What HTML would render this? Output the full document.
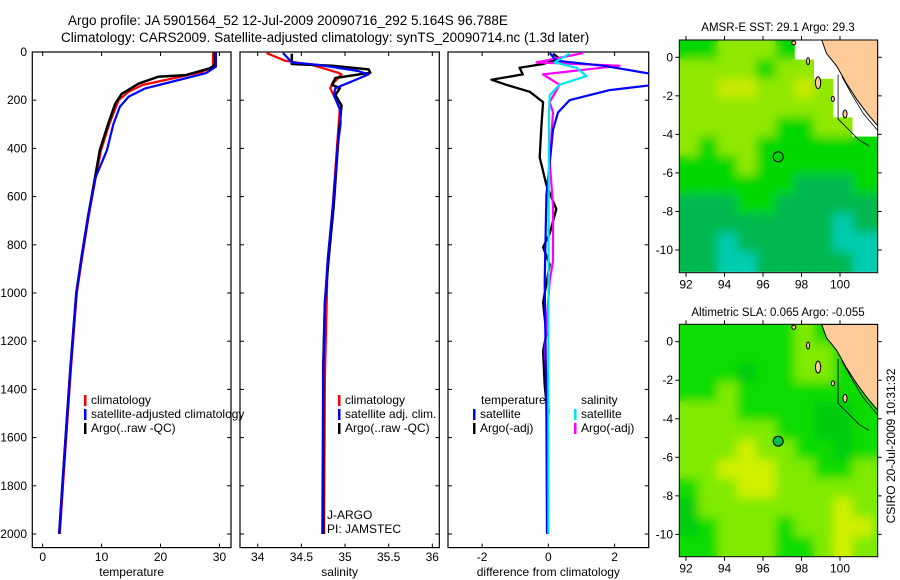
<!DOCTYPE html>
<html><head><meta charset="utf-8">
<style>
html,body{margin:0;padding:0;background:#fff;}
svg{display:block;font-family:"Liberation Sans",sans-serif;}
text{fill:#000;}
</style></head>
<body>
<svg id="fig" width="900" height="580" viewBox="0 0 900 580" xmlns="http://www.w3.org/2000/svg">
<defs><filter id="soft" x="-5%" y="-5%" width="110%" height="110%"><feGaussianBlur stdDeviation="5"/></filter></defs>
<text x="68" y="25" font-size="13.5">Argo profile: JA 5901564_52 12-Jul-2009 20090716_292 5.164S 96.788E</text>
<text x="61" y="42" font-size="13.5">Climatology: CARS2009. Satellite-adjusted climatology: synTS_20090714.nc (1.3d later)</text>
<text x="778" y="31" font-size="11.5" text-anchor="middle">AMSR-E SST: 29.1 Argo: 29.3</text>
<text x="778" y="316" font-size="11.5" text-anchor="middle">Altimetric SLA: 0.065 Argo: -0.055</text>
<text font-size="12" text-anchor="middle" transform="translate(895,446) rotate(-90)">CSIRO 20-Jul-2009 10:31:32</text>
<g id="plots"></g>
</svg>
<script>
// ---------- profile data ----------
const depthTicks = [0,200,400,600,800,1000,1200,1400,1600,1800,2000];
const tTicks = [0,10,20,30];
const sTicks = [34,34.5,35,35.5,36];
const dTicks = [-2,0,2];

const argoTDepth = [0,54,68,96,102,131,174,215,299,408,519,684,850,1000,1312,1527,1742,2000];
const argoTVal   = [29.1,29.3,28.3,24.3,19.7,16.3,13.4,12.3,11.1,9.7,8.9,7.7,6.6,5.7,4.7,4.1,3.5,2.8];
const climTDepth = [0,61,82,110,137,165,199,299,408,519,684,850,1000,1312,1527,1742,2000];
const climTVal   = [28.9,28.9,27.1,22.0,16.9,14.6,12.9,11.3,9.9,9.0,7.8,6.7,5.8,4.8,4.2,3.6,2.9];
const satTDepth  = [0,61,88,116,151,185,227,299,408,519,684,850,1000,1312,1527,1742,2000];
const satTVal    = [29.4,29.4,27.7,23.1,17.4,14.6,13.1,12.0,10.9,9.0,7.7,6.6,5.7,4.7,4.1,3.5,2.8];

const argoSDepth = [7,50,57,72,86,108,136,150,179,222,380,638,868,1040,1312,2000];
const argoSVal   = [34.39,34.39,34.85,35.27,35.29,34.89,34.85,34.94,34.89,34.96,34.92,34.87,34.81,34.77,34.75,34.75];
const climSDepth = [4,36,53,86,93,136,150,200,237,380,638,868,1040,1350,2000];
const climSVal   = [34.10,34.31,34.62,34.92,34.96,34.85,34.83,34.90,34.94,34.91,34.86,34.80,34.79,34.77,34.76];
const satSDepth  = [4,43,53,79,93,122,150,179,237,294,380,638,868,1040,1312,2000];
const satSVal    = [34.29,34.39,34.69,35.15,35.27,35.08,34.89,34.87,34.94,34.95,34.92,34.86,34.80,34.77,34.75,34.74];

const satTdDepth = [4,36,57,93,136,158,200,251,323,437,595,954,1500,2000];
const satTdVal   = [0.04,0.24,1.65,3.2,3.2,1.85,0.64,0.29,0.14,0.06,-0.06,-0.11,-0.06,-0.04];
const argoTdDepth= [7,28,50,65,93,115,136,165,208,308,437,552,652,753,810,882,1040,1170,1240,1384,1456];
const argoTdVal  = [0.14,0.34,-0.16,-0.87,-0.77,-1.72,-1.27,-0.56,-0.16,-0.21,-0.26,-0.06,0.24,0.04,-0.16,0.04,-0.16,-0.06,-0.16,-0.11,-0.06];
const satSdDepth = [7,43,65,100,136,179,250,600,1200,2000];
const satSdVal   = [0.64,0.19,0.85,1.15,0.34,0.04,0.02,0.01,0.0,0.0];
const argoSdDepth= [4,43,57,93,136,208,250,452,638,868,950,1240,1498];
const argoSdVal  = [1.05,-0.36,2.15,-0.16,0.34,0.04,0.14,0.04,0.14,0.14,0.04,-0.11,0.02];

// ---------- map data (cells 1deg, lon from 91.65, lat from 0.9 down; -1 = no data) ----------
const sstGrid = [
[2,2,3,3,3,2,-1,-1,-1,-1,-1],
[3,3,3,3,2,3,3,-1,-1,-1,-1],
[3,3,4,4,3,3,4,3,-1,-1,-1],
[3,3,3,3,3,3,3,3,-1,-1,-1],
[3,3,3,3,3,2,2,3,3,-1,-1],
[3,2,3,3,2,2,2,2,2,2,2],
[2,2,2,3,2,2,2,2,2,2,2],
[2,2,2,2,2,2,1,1,1,2,2],
[1,1,1,2,2,1,1,1,1,1,1],
[1,1,1,1,1,1,1,1,0,1,1],
[1,1,0,1,1,1,1,1,0,0,0],
[1,1,0,0,1,1,1,1,1,0,0]];
const slaGrid = [
[2,2,2,2,2,2,3,2,2,2,2],
[2,2,2,2,2,2,3,3,2,2,2],
[2,2,2,1,2,2,3,3,2,2,2],
[2,2,3,2,2,2,2,2,2,2,2],
[3,3,3,2,2,2,2,1,1,2,2],
[3,3,3,3,3,2,2,1,1,2,2],
[3,3,3,4,3,3,2,2,1,2,2],
[3,3,4,4,4,3,3,2,2,3,3],
[2,3,3,4,4,3,3,3,3,3,3],
[1,3,3,3,3,3,3,3,4,3,3],
[1,2,3,3,3,2,3,3,4,4,3],
[2,2,3,3,3,2,2,3,4,3,3]];
const lonTicks = [92,94,96,98,100];
const latTicks = [0,-2,-4,-6,-8,-10];
const landLon = [99.05,99.3,99.83,100.3,100.87,101.4,101.96,101.96];
const landLat = [0.9,0.2,-0.45,-1.3,-2.18,-2.9,-3.56,0.9];
const argoLon = 96.788, argoLat = -5.164;

const sstColors = ['#00ccb0','#00b850','#00d800','#90e800','#c8ea00'];
const slaColors = ['#00bb30','#00cc10','#10dc00','#80ea00','#d0f000'];

const NS='http://www.w3.org/2000/svg';
const root=document.getElementById('plots');
function mk(tag,attrs,parent){const e=document.createElementNS(NS,tag);for(const k in attrs)e.setAttribute(k,attrs[k]);(parent||root).appendChild(e);return e;}

const y0=52, yPer=(534-52)/2000, yBot=547.6;
const yScale=d=>y0+d*yPer;

function panel(name,x0,x1,dmin,dmax,ticks,label,showY){
  const g=mk('g',{});  
  const xs=v=>x0+(v-dmin)/(dmax-dmin)*(x1-x0);
  const cp=mk('clipPath',{id:'cp-'+name},g); mk('rect',{x:x0,y:y0,width:x1-x0,height:yBot-y0},cp);
  const box=mk('rect',{x:x0,y:y0,width:x1-x0,height:yBot-y0,fill:'none',stroke:'#000','stroke-width':1.2},g);
   
  ticks.forEach(t=>{const x=xs(t);
    mk('line',{x1:x,x2:x,y1:y0,y2:y0+4,stroke:'#000'},g);
    mk('line',{x1:x,x2:x,y1:yBot,y2:yBot-4,stroke:'#000'},g);
    const tx=mk('text',{x:x,y:561,'font-size':12,'text-anchor':'middle'},g); tx.textContent=String(t);
     
  });
  depthTicks.forEach(d=>{const y=yScale(d);
    mk('line',{x1:x0,x2:x0+4,y1:y,y2:y,stroke:'#000'},g);
    mk('line',{x1:x1,x2:x1-4,y1:y,y2:y,stroke:'#000'},g);
    if(showY){const tx=mk('text',{x:27,y:y+4,'font-size':12,'text-anchor':'end'},g);tx.textContent=String(d);
       }
  });
  const xl=mk('text',{x:(x0+x1)/2,y:576,'font-size':12,'text-anchor':'middle'},g); xl.textContent=label;
   
  return {g,xs,clip:'url(#cp-'+name+')'};
}
function line(p,name,ds,vs,color,w){
  const pts=ds.map((d,i)=>p.xs(vs[i]).toFixed(1)+','+yScale(d).toFixed(1)).join(' ');
  const pl=mk('polyline',{points:pts,fill:'none',stroke:color,'stroke-width':w,'clip-path':p.clip,'stroke-linejoin':'round'},p.g);
   
}
function legend(p,x,y,color,label,name){
  mk('rect',{x:x,y:y-9,width:2.5,height:11,fill:color},p.g);
  const t=mk('text',{x:x+7,y:y,'font-size':12},p.g); t.textContent=label;
   
}
function txt(p,x,y,s,name){const t=mk('text',{x:x,y:y,'font-size':12},p.g);t.textContent=s;
   }

const p1=panel('temperature-panel',32.3,231,-1.76,31.96,tTicks,'temperature',true);
line(p1,'temperature-climatology-line',climTDepth,climTVal,'#ff0000',2.2);
line(p1,'temperature-argo-line',argoTDepth,argoTVal,'#000000',2.5);
line(p1,'temperature-satellite-line',satTDepth,satTVal,'#0000ff',2.2);
legend(p1,84,404,'#ff0000','climatology','legend-climatology');
legend(p1,84,418,'#0000ff','satellite-adjusted climatology','legend-satellite');
legend(p1,84,432,'#000000','Argo(..raw -QC)','legend-argo');

const p2=panel('salinity-panel',240,439.3,33.797,36.08,sTicks,'salinity',false);
line(p2,'salinity-climatology-line',climSDepth,climSVal,'#ff0000',2.2);
line(p2,'salinity-argo-line',argoSDepth,argoSVal,'#000000',2.5);
line(p2,'salinity-satellite-line',satSDepth,satSVal,'#0000ff',2.2);
legend(p2,338,404,'#ff0000','climatology','legend-sal-climatology');
legend(p2,338,418,'#0000ff','satellite adj. clim.','legend-sal-satellite');
legend(p2,338,432,'#000000','Argo(..raw -QC)','legend-sal-argo');
txt(p2,327,519,'J-ARGO','data-centre-label');
txt(p2,327,533,'PI: JAMSTEC','pi-label');

const p3=panel('difference-panel',448,648.7,-3.03,3.03,dTicks,'difference from climatology',false);
line(p3,'temp-diff-argo-line',argoTdDepth,argoTdVal,'#000000',2.3);
line(p3,'sal-diff-argo-line',argoSdDepth,argoSdVal,'#ff00ff',2.2);
line(p3,'temp-diff-satellite-line',satTdDepth,satTdVal,'#0000ff',2.2);
line(p3,'sal-diff-satellite-line',satSdDepth,satSdVal,'#00e5ee',2.2);
txt(p3,481,404,'temperature','legend-temperature-header');
txt(p3,581,404,'salinity','legend-salinity-header');
legend(p3,473,418,'#0000ff','satellite','legend-temp-satellite');
legend(p3,473,432,'#000000','Argo(-adj)','legend-temp-argo');
legend(p3,574,418,'#00e5ee','satellite','legend-sal-satellite');
legend(p3,574,432,'#ff00ff','Argo(-adj)','legend-sal-argo');

function map(name,top,bot,lat0y,grid,colors,filled){
  const L=679.3,R=877.7, px=19.25, py=19.27;
  const lx=lon=>686+(lon-92)*px, ly=lat=>lat0y-lat*py;
  const g=mk('g',{});  
  const cp=mk('clipPath',{id:'cp-'+name},g); mk('rect',{x:L,y:top,width:R-L,height:bot-top},cp);
  const cg=mk('g',{'clip-path':'url(#cp-'+name+')'},g);
  mk('rect',{x:L,y:top,width:R-L,height:bot-top,fill:'#fff'},cg);
  function cells(parent){
    grid.forEach((row,j)=>row.forEach((v,i)=>{
      if(v<0)return;
      const c=mk('rect',{x:lx(91.65+i).toFixed(1),y:ly(0.9-j).toFixed(1),width:px+0.6,height:py+0.6,fill:colors[v]},parent);
       
    }));
  }
  const base=mk('g',{},cg); cells(base);
  const soft=mk('g',{filter:'url(#soft)'},cg); cells(soft);
  grid.forEach((row,j)=>row.forEach((v,i)=>{
    if(v>=0)return;
    mk('rect',{x:lx(91.65+i).toFixed(1),y:ly(0.9-j).toFixed(1),width:px+0.3,height:py+0.3,fill:'#fff'},cg);
  }));
  const land=mk('polygon',{points:landLon.map((lo,i)=>lx(lo).toFixed(1)+','+ly(landLat[i]).toFixed(1)).join(' '),fill:'#ffcc99',stroke:'#000','stroke-width':1},cg);
   
  [[98.86,-1.32,2.6,6],[99.63,-2.16,1.5,2.5],[100.26,-2.94,2,4],[98.34,-0.2,1.5,3.5],[97.6,0.75,2,2]].forEach(a=>{
    const e=mk('ellipse',{cx:lx(a[0]),cy:ly(a[1]),rx:a[2],ry:a[3],fill:'#ffcc99',stroke:'#000','stroke-width':1},cg);
     
  });
  mk('polyline',{points:[[99.9,-0.9],[99.9,-3.2],[101.0,-4.3],[101.5,-4.6]].map(p=>lx(p[0])+','+ly(p[1])).join(' '),fill:'none',stroke:'#000','stroke-width':0.8},cg);
  mk('polyline',{points:[[100.1,-1.0],[100.6,-1.9],[101.2,-2.9],[101.96,-3.8]].map(p=>lx(p[0])+','+ly(p[1])).join(' '),fill:'none',stroke:'#000','stroke-width':0.8},cg);
  const circ=mk('circle',{cx:lx(argoLon),cy:ly(argoLat),r:5,fill:filled?'#00b848':'none',stroke:'#000','stroke-width':1},g);
   
  mk('rect',{x:L,y:top,width:R-L,height:bot-top,fill:'none',stroke:'#000','stroke-width':1},g);
  lonTicks.forEach(lo=>{const x=lx(lo);
    mk('line',{x1:x,x2:x,y1:top,y2:top-4,stroke:'#000'},g);
    mk('line',{x1:x,x2:x,y1:bot,y2:bot+4,stroke:'#000'},g);
    const t=mk('text',{x:x,y:bot+16,'font-size':12,'text-anchor':'middle'},g); t.textContent=String(lo);
     
  });
  latTicks.forEach(la=>{const y=ly(la);
    mk('line',{x1:L,x2:L-4,y1:y,y2:y,stroke:'#000'},g);
    mk('line',{x1:R,x2:R+4,y1:y,y2:y,stroke:'#000'},g);
    const t=mk('text',{x:673,y:y+4,'font-size':12,'text-anchor':'end'},g); t.textContent=String(la);
     
  });
}
map('sst-map',40,272.7,57.3,sstGrid,sstColors,false);
map('sla-map',324.3,556.7,341.7,slaGrid,slaColors,true);
</script>
</body></html>
